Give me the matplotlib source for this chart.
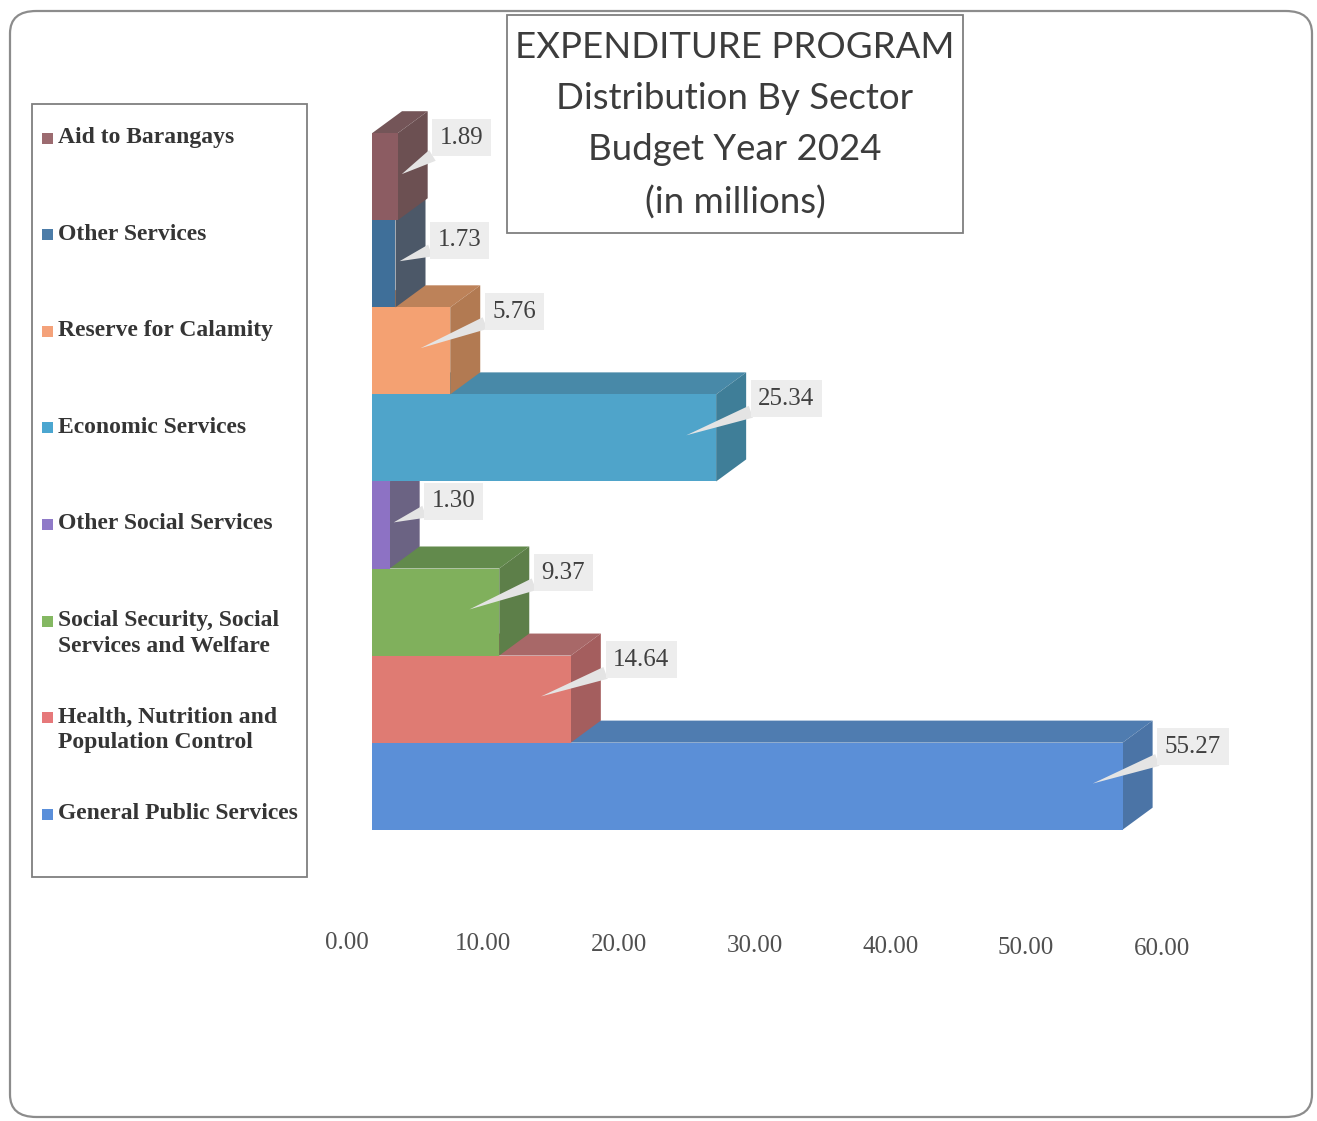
import matplotlib
matplotlib.use('Agg')
import matplotlib.pyplot as plt
from matplotlib.patches import Polygon, Rectangle, FancyBboxPatch
from matplotlib.transforms import ScaledTranslation


# sectors from bottom bar to top bar
sectors = ['General Public Services',
           'Health, Nutrition and\nPopulation Control',
           'Social Security, Social\nServices and Welfare',
           'Other Social Services',
           'Economic Services',
           'Reserve for Calamity',
           'Other Services',
           'Aid to Barangays']
amounts = [55.27, 14.64, 9.37, 1.30, 25.34, 5.76, 1.73, 1.89]

front_colors = ['#5b8fd7', '#df7b73', '#80b05c', '#8d72c4', '#4fa4ca', '#f4a172', '#3f6f99', '#8c5c62']
side_colors = ['#4b74a6', '#a45e5e', '#5d7f49', '#6b6383', '#3f7e98', '#b27a52', '#4c5868', '#6c5052']
top_colors = ['#4f7cb0', '#a86868', '#628a4c', '#6f6689', '#4889a8', '#bd8259', '#4f5d70', '#745558']
legend_colors = ['#5a8fda', '#e6787a', '#84b862', '#8f7ac8', '#4ba6d0', '#f4a27a', '#4c7ca8', '#9c6b70']

ticks = [0, 10, 20, 30, 40, 50, 60]

W, H = 1317, 1121
fig = plt.figure(figsize=(W / 100, H / 100), dpi=100)

def fx(px):
    return px / W

def fy(py):
    return 1 - py / H

# rounded frame round the whole chart
fig.patches.append(FancyBboxPatch((fx(10), fy(1117)), fx(1302), 1106 / H,
                                  boxstyle='round,pad=0,rounding_size=0.02',
                                  transform=fig.transFigure, fc='none',
                                  ec='#8c8c8c', lw=1.6))

ax = fig.add_axes([fx(372), fy(915), 842 / W, 834 / H])
ax.set_xlim(0, 62)
ax.set_ylim(-0.98, 8.6)
for s in ax.spines.values():
    s.set_visible(False)
ax.set_yticks([])

# depth of the 3-D bars in data units
DX, DY = 2.21, 0.253

for i, v in enumerate(amounts):
    top = [(0, i + 1), (v, i + 1), (v + DX, i + 1 + DY), (DX, i + 1 + DY)]
    side = [(v, i), (v + DX, i + DY), (v + DX, i + 1 + DY), (v, i + 1)]
    ax.add_patch(Polygon(top, closed=True, fc=top_colors[i], ec='none'))
    ax.add_patch(Polygon(side, closed=True, fc=side_colors[i], ec='none'))
    ax.add_patch(Rectangle((0, i), v, 1, fc=front_colors[i], ec='none'))

# value callouts
for i, v in enumerate(amounts):
    ly = i + 0.95
    if i + 1 < len(amounts) and amounts[i + 1] > v:
        ly = i + 0.77
    tx = v - 2.2 if v > 5 else v + 0.3
    ax.annotate(f'{v:.2f}', xy=(tx, i + 0.53), xytext=(v + DX + 0.9, ly),
                textcoords='data', ha='left', va='center',
                fontfamily='Liberation Serif', fontsize=18, color='#404040',
                bbox=dict(boxstyle='square,pad=0.3', fc='#ededed', ec='none'),
                arrowprops=dict(arrowstyle='wedge,tail_width=0.5,shrink_factor=0.5',
                                fc='#e4e4e4', ec='none', shrinkA=0, shrinkB=0),
                zorder=5)

ax.set_xticks(ticks)
ax.set_xticklabels([f'{t:.2f}' for t in ticks], fontfamily='Liberation Serif',
                   fontsize=18, color='#505050')
ax.tick_params(axis='x', length=0, pad=12)
for k, lab in enumerate(ax.get_xticklabels()):
    lab.set_transform(lab.get_transform() +
                      ScaledTranslation(-0.25, -k * 0.01, fig.dpi_scale_trans))

# title box
fig.patches.append(Rectangle((fx(507), fy(233)), 456 / W, 218 / H,
                             transform=fig.transFigure, fc='white',
                             ec='#7f7f7f', lw=1.3))
fig.text(fx(735), fy(125), 'EXPENDITURE PROGRAM\nDistribution By Sector\nBudget Year 2024\n(in millions)',
         ha='center', va='center', fontfamily='Lato', fontsize=26.4,
         color='#3c3c3c', linespacing=1.68)

# legend box
fig.patches.append(Rectangle((fx(32), fy(877)), 275 / W, 773 / H,
                             transform=fig.transFigure, fc='none',
                             ec='#7f7f7f', lw=1.3))
n = len(sectors)
for k in range(n):
    i = n - 1 - k
    c = 138 + 96.6 * k
    fig.patches.append(Rectangle((fx(42), fy(c + 5.5)), 11 / W, 11 / H,
                                 transform=fig.transFigure,
                                 fc=legend_colors[i], ec='none'))
    fig.text(fx(58), fy(c - 11), sectors[i], ha='left', va='top',
             fontfamily='Liberation Serif', fontweight='bold', fontsize=17,
             color='#353535', linespacing=1.3)

fig.savefig('out.png', dpi=100)
